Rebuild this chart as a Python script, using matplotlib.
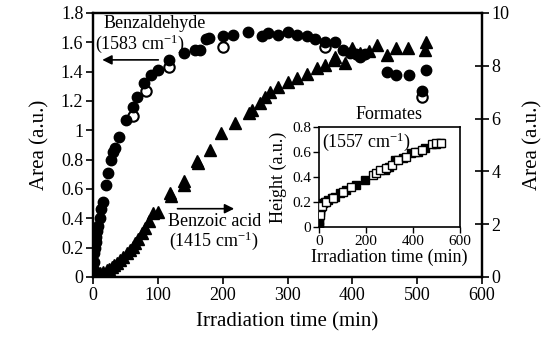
import numpy as np
import matplotlib
matplotlib.use("Agg")
import matplotlib.pyplot as plt

plt.rcParams['font.family'] = ['Liberation Serif', 'DejaVu Serif']
plt.rcParams['mathtext.fontset'] = 'custom'
plt.rcParams['mathtext.rm'] = 'Liberation Serif'
plt.rcParams['mathtext.it'] = 'Liberation Serif:italic'

# Benzaldehyde (1583 cm-1), left axis
bz_t = [0, 1, 2, 2, 3, 4, 5, 6, 8, 10, 13, 15, 20, 23, 28, 31, 34, 40, 51, 62, 68, 79, 90,
        100, 117, 140, 158, 165, 174, 179, 200, 216, 239, 260, 270, 285, 301, 314, 330,
        342, 358, 373, 385, 396, 405, 412, 420, 453, 468, 488, 514, 507]
bz_a = [0.0, 0.05, 0.1, 0.16, 0.2, 0.24, 0.27, 0.31, 0.35, 0.4, 0.46, 0.51, 0.63, 0.71, 0.8,
        0.85, 0.88, 0.955, 1.07, 1.16, 1.23, 1.32, 1.38, 1.41, 1.48, 1.53, 1.55, 1.55, 1.62,
        1.63, 1.64, 1.65, 1.67, 1.64, 1.66, 1.65, 1.67, 1.65, 1.64, 1.62, 1.6, 1.6, 1.55,
        1.53, 1.52, 1.5, 1.52, 1.4, 1.38, 1.38, 1.41, 1.27]
bz_open_t = [62, 81, 117, 200, 358, 507]
bz_open_a = [1.1, 1.27, 1.43, 1.57, 1.57, 1.23]

# Benzoic acid (1415 cm-1), right axis
ba_t = [0, 3, 6, 11, 16, 21, 25, 29, 33, 36.5, 42, 47, 52, 57, 61, 65, 70, 75, 80, 86, 93,
        101, 118, 120, 140, 141, 160, 162, 180, 198, 219, 240, 245, 258, 265, 273, 286, 301,
        314, 330, 345, 358, 371, 373, 389, 399, 412, 425, 438, 453, 468, 486, 512, 514]
ba_a = [0.3, 0.15, 0.08, 0.15, 0.2, 0.27, 0.3, 0.39, 0.45, 0.52, 0.65, 0.77, 0.9, 1.02, 1.15,
        1.28, 1.45, 1.65, 1.86, 2.1, 2.41, 2.47, 3.18, 3.05, 3.65, 3.5, 4.4, 4.3, 4.8, 5.44,
        5.82, 6.2, 6.33, 6.58, 6.8, 7.02, 7.2, 7.4, 7.53, 7.7, 7.9, 8.03, 8.22, 8.34, 8.09,
        8.66, 8.47, 8.54, 8.79, 8.41, 8.66, 8.66, 8.6, 8.91]

# Formates (1557 cm-1), inset
fo_t = [0, 1, 2, 3, 4, 6, 10, 18, 28, 40, 55, 68, 89, 118, 160, 196, 281, 300, 323, 359,
        394, 423, 451, 501, 515]
fo_h = [0.0, 0.03, 0.06, 0.09, 0.12, 0.14, 0.16, 0.19, 0.2, 0.216, 0.23, 0.24, 0.27, 0.296,
        0.336, 0.376, 0.456, 0.48, 0.536, 0.55, 0.59, 0.6, 0.63, 0.664, 0.67]
fo_open_t = [5, 15, 30, 60, 104, 138, 231, 245, 260, 285, 310, 338, 370, 410, 440, 480, 500, 520]
fo_open_h = [0.1, 0.17, 0.2, 0.235, 0.28, 0.32, 0.416, 0.43, 0.456, 0.47, 0.496, 0.536, 0.56,
             0.6, 0.62, 0.664, 0.67, 0.67]

fig = plt.figure(figsize=(5.44, 3.41), dpi=100)
ax = fig.add_axes([0.171, 0.188, 0.715, 0.774])
ax2 = ax.twinx()

ax.plot(bz_open_t, bz_open_a, 'o', ms=7.5, mfc='white', mec='black', mew=1.5, zorder=2)
ax.plot(bz_t, bz_a, 'o', ms=7.5, color='black', zorder=3)
ax2.plot(ba_t, ba_a, '^', ms=8, color='black')

ax.set_xlim(0, 600)
ax.set_ylim(0, 1.8)
ax2.set_ylim(0, 10)
ax.set_xticks(range(0, 601, 100))
ax.set_yticks(np.arange(0, 1.81, 0.2))
ax.set_yticklabels(['0', '0.2', '0.4', '0.6', '0.8', '1', '1.2', '1.4', '1.6', '1.8'])
ax2.set_yticks(range(0, 11, 2))

for a in (ax, ax2):
    for s in a.spines.values():
        s.set_linewidth(1.6)
ax.tick_params(direction='out', length=5, width=1.2, labelsize=13, pad=2)
ax2.tick_params(direction='inout', length=10, width=1.2, labelsize=13, pad=2)

ax.set_xlabel('Irradiation time (min)', fontsize=15, labelpad=6)
ax.set_ylabel('Area (a.u.)', fontsize=15, labelpad=8)
ax2.set_ylabel('Area (a.u.)', fontsize=15, labelpad=10)

ax.text(95, 1.73, 'Benzaldehyde', fontsize=13, ha='center', va='center')
ax.text(73, 1.59, '(1583 cm$^{-1}$)', fontsize=13, ha='center', va='center')
ax.annotate('', xy=(10, 1.48), xytext=(105, 1.48),
            arrowprops=dict(arrowstyle='-|>', color='black', lw=1.2, mutation_scale=14))
ax.text(187, 0.378, 'Benzoic acid', fontsize=13, ha='center', va='center')
ax.text(186, 0.245, '(1415 cm$^{-1}$)', fontsize=13, ha='center', va='center')
ax.annotate('', xy=(222, 0.465), xytext=(126, 0.465),
            arrowprops=dict(arrowstyle='-|>', color='black', lw=1.2, mutation_scale=14))

# inset
ins = fig.add_axes([0.586, 0.334, 0.259, 0.293])
ins.plot(fo_open_t, fo_open_h, 's', ms=5.5, mfc='white', mec='black', mew=1, zorder=3)
ins.plot(fo_t, fo_h, 's', ms=5.5, color='black', zorder=2)
ins.set_xlim(0, 600)
ins.set_ylim(0, 0.8)
ins.set_xticks([0, 200, 400, 600])
ins.set_yticks([0, 0.2, 0.4, 0.6, 0.8])
ins.set_yticklabels(['0', '0.2', '0.4', '0.6', '0.8'])
for s in ins.spines.values():
    s.set_linewidth(1.2)
ins.tick_params(direction='out', length=4, width=1, labelsize=11, pad=1.5)
ins.set_xlabel('Irradiation time (min)', fontsize=13, labelpad=1)
ins.set_ylabel('Height (a.u.)', fontsize=13, labelpad=4)
ins.text(0.02, 0.97, '(1557 cm$^{-1}$)', fontsize=13, transform=ins.transAxes, ha='left', va='top')
ins.text(0.5, 1.04, 'Formates', fontsize=13, transform=ins.transAxes, ha='center', va='bottom')

fig.savefig('out.png', dpi=100)
